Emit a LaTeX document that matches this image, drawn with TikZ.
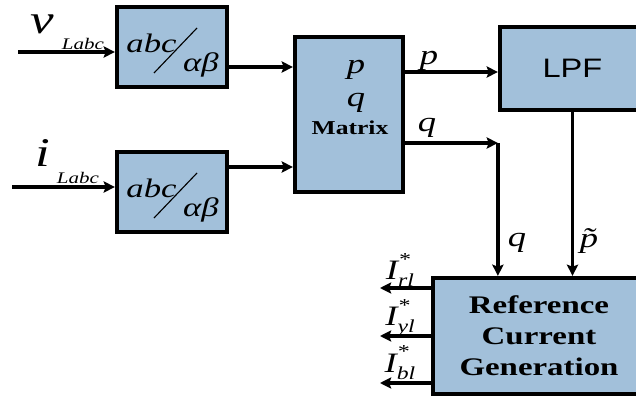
\documentclass[tikz,border=0pt]{standalone}
\usepackage{fontspec}
\setmainfont[FakeStretch=1.3]{Liberation Serif}
\setsansfont[FakeStretch=1.22]{Liberation Sans}
\usetikzlibrary{arrows.meta}
\definecolor{boxblue}{RGB}{162,192,218}

\begin{document}
\begin{tikzpicture}[
  blk/.style={draw, line width=3pt, fill=boxblue, inner sep=0pt},
  sig/.style={line width=2.3pt, -{Stealth[length=8pt,width=8pt,inset=1.5pt]}},
  lbl/.style={font=\itshape\fontsize{20}{20}\selectfont, inner sep=0pt},
  biglbl/.style={font=\itshape\fontsize{29}{29}\selectfont, inner sep=0pt},
  sublbl/.style={font=\itshape\fontsize{11.5}{11.5}\selectfont, inner sep=0pt},
]
\useasboundingbox (0,0) rectangle (15.9,-9.9);
\node[blk, minimum width=2.75cm, minimum height=2cm] (abcv) at (4.3,-1.175) {};
\node[blk, minimum width=2.75cm, minimum height=2cm] (abci) at (4.3,-4.8) {};
\node[blk, minimum width=2.7cm, minimum height=3.875cm] (mat) at (8.725,-2.8625) {};
\node[blk, minimum width=3.625cm, minimum height=2.075cm, font=\sffamily\fontsize{19}{19}\selectfont] (lpf) at (14.3125,-1.7125) {LPF};
\node[blk, minimum width=5.3cm, minimum height=2.9cm, align=center, font=\bfseries\fontsize{18}{22}\selectfont] (ref) at (13.475,-8.4) {Reference\\Current\\Generation};
\node[lbl, font=\itshape\fontsize{19}{19}\selectfont] (abcvt) at (3.7875,-1.075) {abc};
\node[lbl, font=\itshape\fontsize{19}{19}\selectfont] (abvt) at (5.025,-1.625) {αβ};
\node[lbl, font=\itshape\fontsize{19}{19}\selectfont] (abcit) at (3.7875,-4.7) {abc};
\node[lbl, font=\itshape\fontsize{19}{19}\selectfont] (abit) at (5.025,-5.25) {αβ};
\draw[line width=0.8pt] (3.85,-1.825) -- (4.925,-0.7);
\draw[line width=0.8pt] (3.85,-5.45) -- (4.925,-4.325);
\node[lbl, anchor=base] (matp) at (8.9,-1.825) {p};
\node[lbl, anchor=base] (matq) at (8.9,-2.65) {q};
\node[font=\bfseries\fontsize{14}{14}\selectfont, inner sep=0pt] (matt) at (8.75,-3.2) {Matrix};
\node[biglbl] (vlbl) at (1.05,-0.6) {v};
\node[sublbl] (vsub) at (2.075,-1.1) {Labc};
\node[biglbl] (ilbl) at (1.075,-3.825) {i};
\node[sublbl] (isub) at (1.95,-4.45) {Labc};
\node[lbl] (plbl) at (10.725,-1.525) {p};
\node[lbl] (qlbl) at (10.675,-3.2) {q};
\node[lbl] (qdlbl) at (12.925,-6.075) {q};
\node[lbl] (ptlbl) at (14.725,-6.025) {\~{p}};
\node[lbl] (irllbl) at (10.0,-6.75) {I\rlap{\raisebox{1.1ex}{\fontsize{13}{13}\selectfont *}}\raisebox{-0.6ex}{\fontsize{13}{13}\selectfont rl}};
\node[lbl] (iyllbl) at (10.0,-7.95) {I\rlap{\raisebox{1.1ex}{\fontsize{13}{13}\selectfont *}}\raisebox{-0.6ex}{\fontsize{13}{13}\selectfont yl}};
\node[lbl] (ibllbl) at (10.0,-9.075) {I\rlap{\raisebox{1.1ex}{\fontsize{13}{13}\selectfont *}}\raisebox{-0.6ex}{\fontsize{13}{13}\selectfont bl}};
\coordinate (vin) at (0.45,-1.3);
\coordinate (iin) at (0.3,-4.675);
\coordinate (qc) at ([yshift=-0.7125cm]mat.east -| lpf.west);
\coordinate (irl) at (9.5,-7.2);
\coordinate (iyl) at (9.5,-8.4);
\coordinate (ibl) at (9.5,-9.575);
\draw[sig] (vin) -- (vin -| abcv.west);
\draw[sig] (iin) -- (iin -| abci.west);
\draw[sig] ([yshift=-0.5cm]abcv.east) -- ([yshift=-0.5cm]abcv.east -| mat.west);
\draw[sig] ([yshift=0.625cm]abci.east) -- ([yshift=0.625cm]abci.east -| mat.west);
\draw[sig] ([yshift=1.0625cm]mat.east) -- ([yshift=1.0625cm]mat.east -| lpf.west);
\draw[sig] ([yshift=-0.7125cm]mat.east) -- (qc);
\draw[sig] (qc) -- (qc |- ref.north);
\draw[sig] (lpf.south) -- (lpf.south |- ref.north);
\draw[sig] (irl -| ref.west) -- (irl);
\draw[sig] (iyl -| ref.west) -- (iyl);
\draw[sig] (ibl -| ref.west) -- (ibl);
\end{tikzpicture}
\end{document}
